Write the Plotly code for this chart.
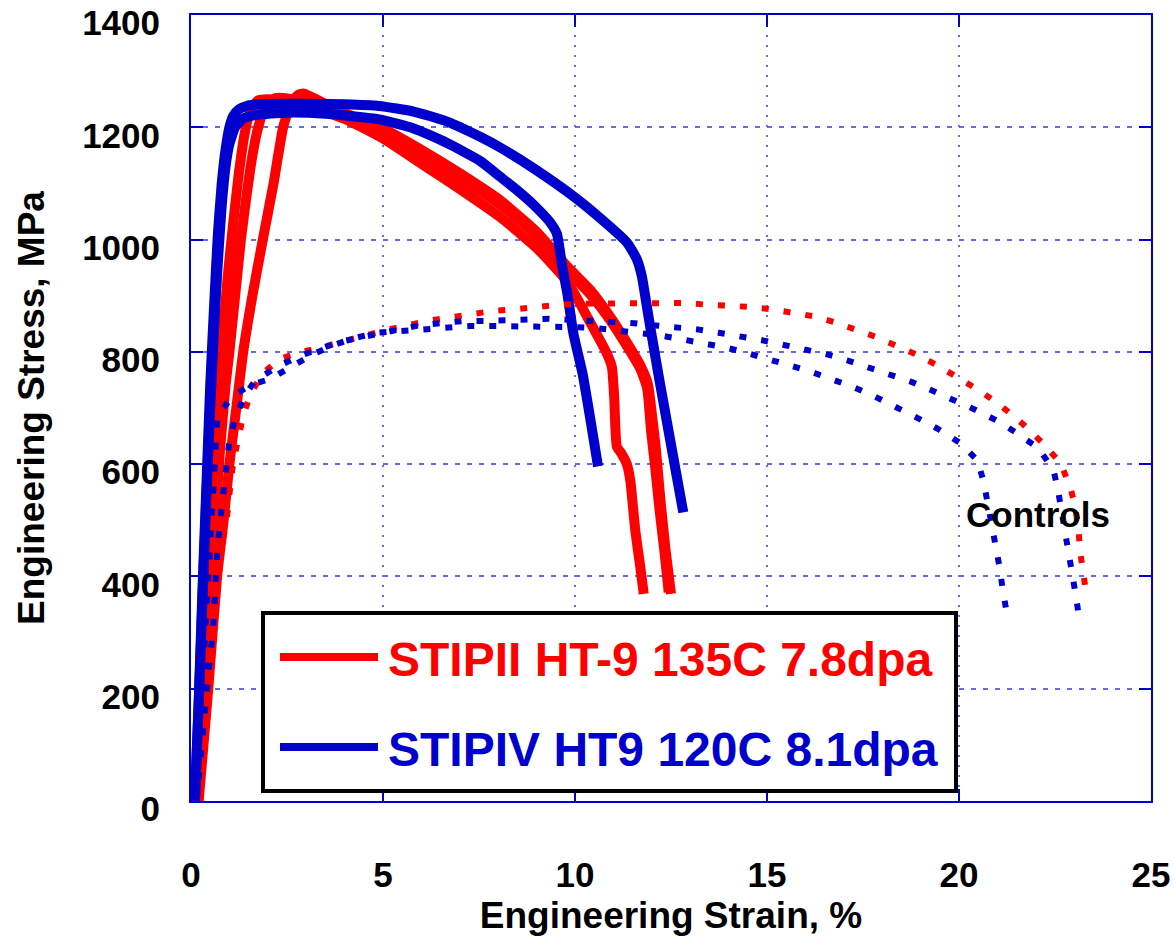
import plotly.graph_objects as go

# ---- STIPII HT-9, irradiated at 135C to 7.8 dpa (three specimens) ----
stipii_a_strain = [0.12, 0.3, 0.45, 0.6, 0.7, 0.8, 0.95, 1.1, 1.25, 1.4, 1.55, 1.75, 2.0, 2.5, 3.0,
                   4.0, 5.0, 6.0, 7.0, 8.05, 9.0, 9.8, 10.4, 10.83, 10.96, 11.02, 11.09, 11.2,
                   11.35, 11.44, 11.57, 11.7, 11.79]
stipii_a_stress = [0, 200, 400, 560, 680, 800, 930, 1030, 1120, 1190, 1230, 1248, 1250, 1246, 1238,
                   1215, 1180, 1135, 1090, 1040, 985, 925, 852, 797, 773, 720, 631, 620,
                   600, 571, 482, 417, 369]

stipii_b_strain = [0.15, 0.35, 0.55, 0.75, 0.9, 1.0, 1.15, 1.3, 1.45, 1.6, 1.75, 1.95, 2.2, 2.6, 3.0,
                   4.0, 5.0, 6.0, 7.0, 8.05, 9.0, 9.8, 10.4, 10.9, 11.3, 11.7, 11.88, 11.98,
                   12.08, 12.2, 12.32, 12.44]
stipii_b_stress = [0, 200, 420, 620, 740, 800, 900, 1000, 1080, 1150, 1200, 1240, 1252, 1250, 1243,
                   1222, 1195, 1152, 1110, 1062, 1008, 946, 902, 858, 816, 770, 735, 660,
                   600, 520, 450, 372]

stipii_c_strain = [0.2, 0.45, 0.68, 0.85, 1.0, 1.18, 1.36, 1.6, 1.87, 2.15, 2.4, 2.62, 2.8, 2.95,
                   3.2, 3.6, 4.2, 5.0, 6.0, 7.0, 8.05, 9.0, 9.8, 10.4, 10.9, 11.3, 11.7, 11.9,
                   12.0, 12.1, 12.22, 12.35, 12.5]
stipii_c_stress = [0, 200, 400, 500, 600, 700, 800, 900, 1000, 1100, 1200, 1245, 1258, 1260,
                   1252, 1238, 1220, 1198, 1160, 1118, 1070, 1014, 952, 910, 864, 822, 776, 742,
                   690, 631, 540, 452, 369]

# ---- STIPIV HT9, irradiated at 120C to 8.1 dpa (two specimens) ----
stipiv_a_strain = [0.1, 0.2, 0.3, 0.4, 0.5, 0.6, 0.7, 0.8, 0.9, 1.0, 1.1, 1.25, 1.45, 1.8, 2.33,
                   3.0, 4.0, 4.9, 5.8, 6.67, 7.53, 8.05, 8.92, 10.0, 10.66, 11.35, 11.61, 11.74,
                   11.85, 11.96, 12.2, 12.5, 12.82]
stipiv_a_stress = [0, 180, 380, 560, 740, 880, 1010, 1100, 1160, 1200, 1220, 1232, 1238, 1241, 1242,
                   1242, 1241, 1238, 1228, 1210, 1183, 1164, 1127, 1075, 1038, 995, 965, 935,
                   890, 844, 749, 635, 514]

stipiv_b_strain = [0.1, 0.2, 0.3, 0.4, 0.5, 0.6, 0.7, 0.8, 0.9, 1.0, 1.15, 1.35, 1.7, 2.5, 3.5,
                   4.9, 5.8, 6.67, 7.53, 8.05, 8.49, 8.92, 9.36, 9.53, 9.66, 9.8, 9.96, 10.2,
                   10.4, 10.6]
stipiv_b_stress = [0, 170, 360, 540, 700, 840, 960, 1060, 1130, 1170, 1200, 1215, 1222, 1226, 1224,
                   1214, 1198, 1172, 1140, 1112, 1088, 1062, 1030, 1010, 955, 904, 832, 760,
                   680, 596]

# ---- Unirradiated controls ----
ctrl_red_strain = [0.15, 0.24, 0.37, 0.46, 0.55, 0.63, 0.81, 0.92, 1.04, 1.11, 1.24, 1.35, 1.54,
                   1.85, 2.33, 2.89, 3.45, 4.02, 4.58, 5.15, 5.67, 6.23, 6.8, 7.36, 7.88, 8.45,
                   9.01, 9.57, 10.4, 11.22, 11.79, 12.35, 12.88, 13.44, 14.02, 14.58, 15.11,
                   15.69, 16.24, 16.8, 17.32, 17.86, 18.4, 18.94, 19.46, 20.03, 20.58, 21.13,
                   21.67, 22.2, 22.64, 22.9, 23.03, 23.11, 23.16, 23.24, 23.31]
ctrl_red_stress = [0, 31, 150, 227, 310, 346, 459, 494, 571, 607, 647, 684, 723,
                   761, 788, 800, 809, 821, 830, 840, 849, 856, 862, 868, 873, 876,
                   880, 884, 886, 887, 887, 887, 887, 884, 883, 880, 876,
                   870, 863, 852, 840, 826, 810, 794, 775, 753, 729, 702,
                   671, 636, 602, 559, 523, 484, 441, 406, 369]

ctrl_blue_a_strain = [0.15, 0.3, 0.45, 0.57, 0.69, 0.81, 0.92, 1.0, 1.15, 1.4, 1.67, 2.24, 2.8,
                      3.37, 3.89, 4.45, 5.02, 5.41, 5.93, 6.49, 7.1, 7.62, 8.19, 8.75, 9.33,
                      9.88, 10.4, 10.96, 11.53, 12.09, 12.66, 13.19, 13.74, 14.3, 14.85, 15.39,
                      15.97, 16.54, 17.08, 17.62, 18.19, 18.78, 19.3, 19.84, 20.42, 20.97,
                      21.54, 22.07, 22.46, 22.58, 22.68, 22.77, 22.87, 22.96, 23.05, 23.13]
ctrl_blue_a_stress = [0, 120, 227, 301, 452, 530, 604, 642, 681, 722, 749, 773, 792,
                      806, 818, 826, 835, 841, 847, 851, 855, 855, 857, 857, 859,
                      857, 855, 855, 851, 847, 844, 840, 834, 828, 821, 813,
                      805, 796, 785, 773, 761, 746, 731, 715, 697, 678,
                      654, 628, 590, 553, 515, 476, 438, 402, 363, 325]

ctrl_blue_b_strain = [0.12, 0.25, 0.38, 0.5, 0.6, 0.69, 0.9, 1.11, 1.6, 2.07, 2.67, 3.19, 3.71,
                      4.23, 4.84, 5.62, 6.15, 6.71, 7.27, 7.84, 8.37, 8.94, 9.49, 10.03, 10.57,
                      11.14, 11.7, 12.24, 12.81, 13.37, 13.91, 14.48, 15.03, 15.59, 16.13,
                      16.69, 17.26, 17.79, 18.34, 18.9, 19.47, 20.02, 20.48, 20.64, 20.74,
                      20.86, 20.95, 21.05, 21.13, 21.23]
ctrl_blue_b_stress = [0, 150, 300, 450, 580, 687, 705, 723, 742, 752, 776, 796, 812,
                      824, 834, 838, 841, 844, 846, 846, 846, 846, 845, 844, 842,
                      838, 834, 829, 822, 816, 808, 798, 787, 775, 765,
                      751, 737, 721, 703, 683, 662, 638, 607, 569, 533,
                      491, 455, 419, 381, 340]

legend_labels = ["STIPII HT-9 135C 7.8dpa", "STIPIV HT9 120C 8.1dpa"]
x_ticks = [0, 5, 10, 15, 20, 25]
y_ticks = [0, 200, 400, 600, 800, 1000, 1200, 1400]

RED = "#ff0000"
BLUE = "#0000cc"
GRID = "#6a6ae6"
FONT = "Liberation Sans, Arial, sans-serif"
DOTS = "7px,15px"

fig = go.Figure()

for xs, ys in [(stipii_a_strain, stipii_a_stress),
               (stipii_b_strain, stipii_b_stress),
               (stipii_c_strain, stipii_c_stress)]:
    fig.add_trace(go.Scatter(x=xs, y=ys, mode="lines", showlegend=False,
                             line=dict(color=RED, width=10, shape="spline", smoothing=0.5)))

for xs, ys in [(stipiv_a_strain, stipiv_a_stress),
               (stipiv_b_strain, stipiv_b_stress)]:
    fig.add_trace(go.Scatter(x=xs, y=ys, mode="lines", showlegend=False,
                             line=dict(color=BLUE, width=10, shape="spline", smoothing=0.5)))

fig.add_trace(go.Scatter(x=ctrl_red_strain, y=ctrl_red_stress, mode="lines", showlegend=False,
                         line=dict(color=RED, width=6, dash=DOTS)))
for xs, ys in [(ctrl_blue_a_strain, ctrl_blue_a_stress),
               (ctrl_blue_b_strain, ctrl_blue_b_stress)]:
    fig.add_trace(go.Scatter(x=xs, y=ys, mode="lines", showlegend=False,
                             line=dict(color=BLUE, width=6, dash=DOTS)))

# Legend box drawn in paper coordinates
L, R, T, B = 191, 1151, 15, 801
W, H = R - L, B - T


def px(xp):
    return (xp - L) / W


def py(yp):
    return (B - yp) / H


fig.add_shape(type="rect", xref="paper", yref="paper",
              x0=px(263), x1=px(956), y0=py(791), y1=py(613),
              line=dict(color="black", width=4), fillcolor="white", layer="above")
for label, color, ycen in [(legend_labels[0], RED, 657), (legend_labels[1], BLUE, 747)]:
    fig.add_shape(type="line", xref="paper", yref="paper",
                  x0=px(280), x1=px(378), y0=py(ycen), y1=py(ycen),
                  line=dict(color=color, width=8), layer="above")
    fig.add_annotation(xref="paper", yref="paper", x=px(386), y=py(ycen + 2),
                       xanchor="left", yanchor="middle", showarrow=False,
                       text="<b>" + label + "</b>",
                       font=dict(family=FONT, size=48, color=color))

fig.add_annotation(x=22.07, y=510, xref="x", yref="y", showarrow=False,
                   text="<b>Controls</b>", font=dict(family=FONT, size=35, color="black"))

axis_common = dict(
    showline=True, linecolor=BLUE, linewidth=2, mirror="ticks",
    ticks="inside", ticklen=12, tickwidth=2, tickcolor=BLUE,
    showgrid=True, gridcolor=GRID, gridwidth=2,
    zeroline=False, ticklabeloverflow="allow",
    tickfont=dict(family=FONT, size=35, color="black", weight="bold"),
)

fig.update_xaxes(range=[0, 25], tickvals=x_ticks, ticktext=[str(v) for v in x_ticks],
                 griddash="2px,8px", ticklabelstandoff=42,
                 title=dict(text="<b>Engineering Strain, %</b>", standoff=18,
                            font=dict(family=FONT, size=37, color="black")),
                 **axis_common)
fig.update_yaxes(range=[0, 1400], tickvals=y_ticks, ticktext=[str(v) for v in y_ticks],
                 griddash="5px,7px", ticklabelstandoff=22, ticklabelshift=8,
                 title=dict(text="<b>Engineering Stress, MPa</b>", standoff=26,
                            font=dict(family=FONT, size=37, color="black")),
                 **axis_common)

fig.update_layout(
    width=1174, height=936,
    margin=dict(l=L, r=1174 - R, t=T, b=936 - B, autoexpand=False),
    paper_bgcolor="white", plot_bgcolor="white",
    font=dict(family=FONT),
)

fig.write_html("out.html")
